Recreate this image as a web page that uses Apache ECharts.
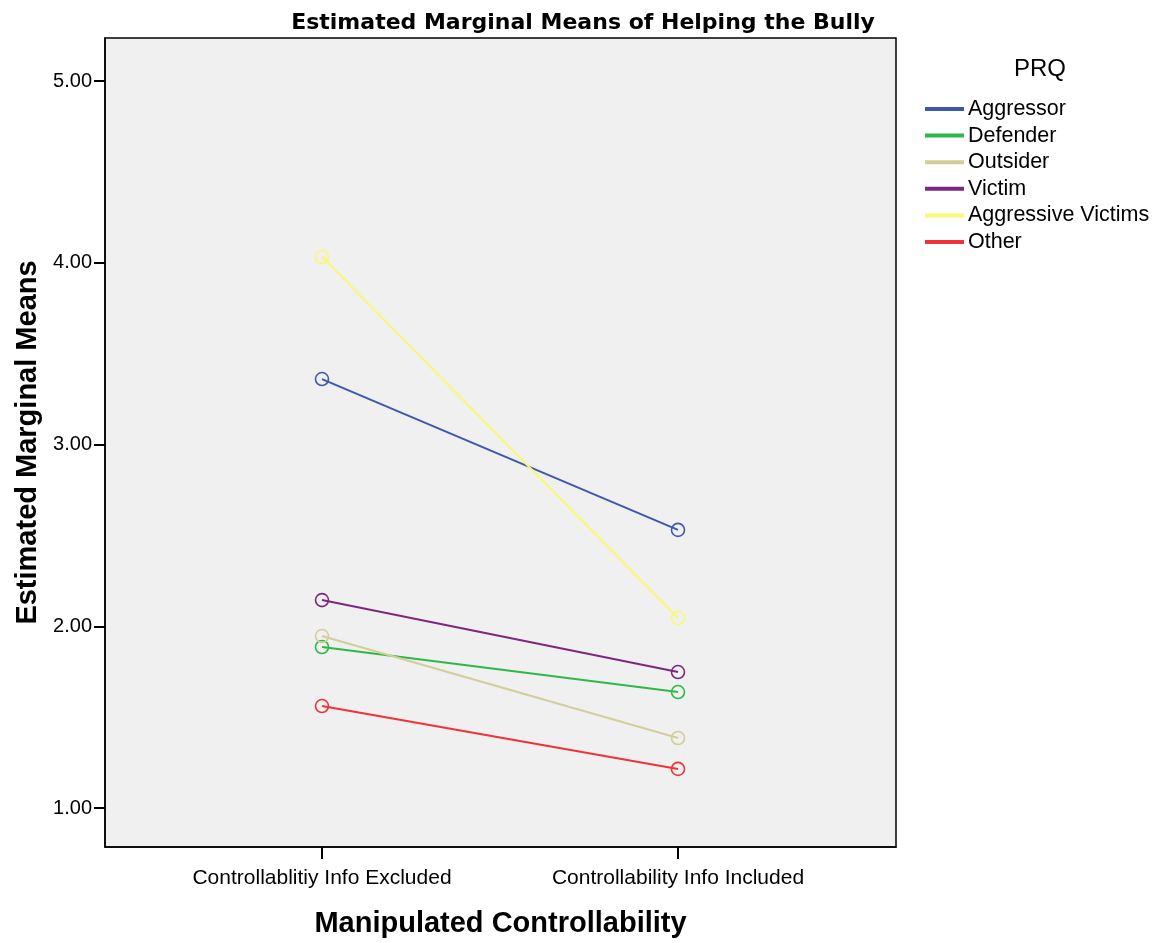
<!DOCTYPE html>
<html>
<head>
<meta charset="utf-8">
<script src="https://cdn.jsdelivr.net/npm/echarts@6/dist/echarts.min.js"></script>
<style>
  html, body { margin: 0; padding: 0; background: #fff; }
  #chart { width: 1162px; height: 943px; }
</style>
</head>
<body>
<div id="chart"></div>
<script>
// categories on the x axis
var categories = ["Controllablitiy Info Excluded", "Controllability Info Included"];
var yTicks = [1, 2, 3, 4, 5];

// PRQ groups
var groupNames = ["Aggressor", "Defender", "Outsider", "Victim", "Aggressive Victims", "Other"];
var groupColors = ["#3e58ac", "#2eb848", "#d3ce97", "#7c287d", "#fbf873", "#ef3338"];

// estimated marginal means (excluded, included)
var aggressor = [3.36, 2.53];
var defender = [1.886, 1.638];
var outsider = [1.946, 1.385];
var victim = [2.144, 1.748];
var aggressiveVictims = [4.033, 2.045];
var other = [1.561, 1.215];

var groupValues = [aggressor, defender, outsider, victim, aggressiveVictims, other];

var font = "Liberation Sans, Arial, sans-serif";

var series_data = [];
for (let i = 0; i < groupNames.length; i++) {
  series_data.push({
    name: groupNames[i],
    type: "line",
    data: groupValues[i].map(function (v, j) { return [j, v]; }),
    symbol: "circle",
    symbolSize: 13,
    lineStyle: { color: groupColors[i], width: 2 },
    itemStyle: { color: "transparent", borderColor: groupColors[i], borderWidth: 1.6 },
    emphasis: { disabled: true },
    z: i == 4 ? 3 : 2,
  });
}

var legend_data = groupNames.map(function (n, i) {
  return { name: n, itemStyle: { color: groupColors[i] } };
});

var myChart = echarts.init(document.getElementById("chart"));
myChart.setOption({
  animation: false,
  title: [
    {
      text: "Estimated Marginal Means of Helping the Bully",
      left: 583,
      top: 12,
      padding: 0,
      textAlign: "center",
      textStyle: { fontFamily: "DejaVu Sans, sans-serif", fontSize: 22, fontWeight: "bold", color: "#000" },
    },
    {
      text: "PRQ",
      left: 1040,
      top: 57,
      padding: 0,
      textAlign: "center",
      textStyle: { fontFamily: font, fontSize: 24, fontWeight: "normal", color: "#000" },
    },
  ],
  legend: {
    orient: "vertical",
    left: 925,
    top: 98,
    padding: 0,
    icon: "rect",
    itemWidth: 37,
    itemHeight: 2,
    itemGap: 4.6,
    selectedMode: false,
    data: legend_data,
    textStyle: { fontFamily: font, fontSize: 21.5, color: "#000", lineHeight: 22 },
  },
  grid: {
    left: 105,
    top: 38,
    width: 791,
    height: 809,
    show: true,
    backgroundColor: "#f0f0f0",
    borderColor: "#000",
    borderWidth: 1.5,
  },
  xAxis: {
    type: "value",
    min: -217 / 356,
    max: 1 + 218 / 356,
    name: "Manipulated Controllability",
    nameLocation: "middle",
    nameGap: 62,
    nameTextStyle: { fontFamily: font, fontSize: 29, fontWeight: "bold", color: "#000" },
    axisLine: { show: true, onZero: false, lineStyle: { color: "#000", width: 1.5 } },
    axisTick: { show: true, length: 12, lineStyle: { color: "#000", width: 2 }, customValues: [0, 1] },
    axisLabel: {
      customValues: [0, 1],
      formatter: function (v) { return categories[Math.round(v)]; },
      fontFamily: font,
      fontSize: 21,
      color: "#000",
      margin: 21,
    },
    splitLine: { show: false },
  },
  yAxis: {
    type: "value",
    min: 1 - 39 / 181.75,
    max: 5 + 43 / 181.75,
    name: "Estimated Marginal Means",
    nameLocation: "middle",
    nameGap: 63,
    nameRotate: 90,
    nameTextStyle: { fontFamily: font, fontSize: 29, fontWeight: "bold", color: "#000" },
    axisLine: { show: true, onZero: false, lineStyle: { color: "#000", width: 1.5 } },
    axisTick: { show: true, length: 11, lineStyle: { color: "#000", width: 2 }, customValues: yTicks },
    axisLabel: {
      customValues: yTicks,
      formatter: function (v) { return v.toFixed(2); },
      fontFamily: font,
      fontSize: 20,
      color: "#000",
      margin: 13,
    },
    splitLine: { show: false },
  },
  series: series_data,
});
</script>
</body>
</html>
